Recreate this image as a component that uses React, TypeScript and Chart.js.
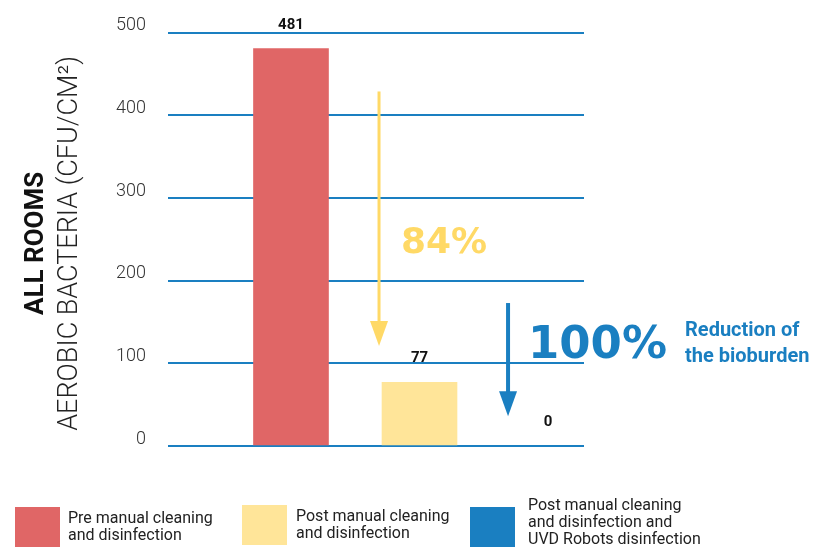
import React, { useEffect, useRef } from "react";
import { Chart, registerables } from "chart.js";

Chart.register(...registerables);

// ---- data ----
const categories = [
  "Pre manual cleaning\nand disinfection",
  "Post manual cleaning\nand disinfection",
  "Post manual cleaning\nand disinfection and\nUVD Robots disinfection",
];
const values = [481, 77, 0];
const positions = [1, 2, 3];
const barColors = ["#e06666", "#ffe599", "#1a7fc1"];
const yTicks = [0, 100, 200, 300, 400, 500];
const yTitleBold = "ALL ROOMS";
const yTitle = "AEROBIC BACTERIA (CFU/CM²)";

// annotations in data units
const arrows = [
  { x: 1.685, from: 429, to: 121, color: "#ffd966", width: 3 },
  { x: 2.689, from: 173, to: 36, color: "#1a7fc1", width: 4 },
];
const notes = [
  { text: "84%", x: 1.856, y: 234, color: "#ffd966", font: "bold 36px 'DejaVu Sans'" },
  { text: "100%", x: 2.844, y: 107, color: "#1a7fc1", font: "bold 45px 'DejaVu Sans'" },
  { text: "Reduction of", x: 4.066, y: 133, color: "#1a7fc1", font: "bold 20px Roboto" },
  { text: "the bioburden", x: 4.066, y: 102, color: "#1a7fc1", font: "bold 20px Roboto" },
];

const BLUE = "#1a7fc1";

const overlayPlugin = {
  id: "overlay",
  afterDatasetsDraw(chart: any) {
    const ctx = chart.ctx;
    const meta = chart.getDatasetMeta(0);
    ctx.save();
    ctx.fillStyle = "#111";
    ctx.font = "bold 15px Roboto";
    ctx.textAlign = "center";
    ctx.textBaseline = "alphabetic";
    meta.data.forEach((bar: any, i: number) => {
      ctx.fillText(String(values[i]), bar.x, bar.y - 20);
    });
    ctx.restore();
  },
  afterDraw(chart: any) {
    const ctx = chart.ctx;
    const xs = chart.scales.x;
    const ys = chart.scales.y;
    ctx.save();
    // arrows
    arrows.forEach((a) => {
      const px = xs.getPixelForValue(a.x);
      const y0 = ys.getPixelForValue(a.from);
      const y1 = ys.getPixelForValue(a.to);
      ctx.strokeStyle = a.color;
      ctx.fillStyle = a.color;
      ctx.lineWidth = a.width;
      ctx.beginPath();
      ctx.moveTo(px, y0);
      ctx.lineTo(px, y1 - 20);
      ctx.stroke();
      ctx.beginPath();
      ctx.moveTo(px - 9, y1 - 25);
      ctx.lineTo(px + 9, y1 - 25);
      ctx.lineTo(px, y1);
      ctx.closePath();
      ctx.fill();
    });
    // notes
    ctx.textAlign = "left";
    ctx.textBaseline = "alphabetic";
    notes.forEach((n) => {
      ctx.font = n.font;
      ctx.fillStyle = n.color;
      ctx.fillText(n.text, xs.getPixelForValue(n.x), ys.getPixelForValue(n.y));
    });
    // y title
    const cy = (chart.chartArea.top + chart.chartArea.bottom) / 2 + 4;
    ctx.translate(0, cy);
    ctx.rotate(-Math.PI / 2);
    ctx.textAlign = "center";
    ctx.fillStyle = "#111";
    ctx.font = "bold 26px Roboto";
    ctx.fillText(yTitleBold, 0, 43);
    ctx.font = "300 27px Roboto";
    ctx.fillStyle = "#222";
    ctx.fillText(yTitle, 0, 77);
    ctx.restore();
  },
};

function ChartCanvas() {
  const ref = useRef<HTMLCanvasElement | null>(null);
  useEffect(() => {
    if (!ref.current) return;
    const chart = new Chart(ref.current, {
      type: "bar",
      data: {
        datasets: [
          {
            data: positions.map((p, i) => ({ x: p, y: values[i] })),
            backgroundColor: barColors,
            barThickness: 75,
          } as any,
        ],
      },
      options: {
        animation: false,
        responsive: false,
        devicePixelRatio: 1,
        layout: { padding: { top: 30, bottom: 103, left: 0, right: 246 } },
        plugins: { legend: { display: false }, tooltip: { enabled: false } },
        scales: {
          x: { type: "linear", min: 0.043, max: 3.28, offset: false, display: false },
          y: {
            min: 0,
            max: 500,
            afterBuildTicks: (s: any) => {
              s.ticks = yTicks.map((v) => ({ value: v }));
            },
            afterFit: (s: any) => {
              s.width = 168;
            },
            border: { display: false },
            grid: { color: BLUE, lineWidth: 2, drawTicks: false },
            ticks: {
              padding: 22,
              labelOffset: -7,
              color: "#333",
              font: { family: "Roboto", size: 18, weight: "300" as any },
            },
          },
        },
      },
      plugins: [overlayPlugin],
    });
    return () => chart.destroy();
  }, []);
  return <canvas ref={ref} width={830} height={549} style={{ display: "block" }} />;
}

const legendPos = [
  { box: [15, 507], text: [68, 509] },
  { box: [242, 505], text: [296, 507] },
  { box: [470, 507], text: [528, 496] },
];

export default function App() {
  return (
    <div style={{ position: "absolute", left: 0, top: 0, width: 830, height: 549, background: "#fff", overflow: "hidden" }}>
      <ChartCanvas />
      {categories.map((c, i) => (
        <React.Fragment key={i}>
          <div
            style={{
              position: "absolute",
              left: legendPos[i].box[0],
              top: legendPos[i].box[1],
              width: 45,
              height: 40,
              background: barColors[i],
            }}
          />
          <div
            style={{
              position: "absolute",
              left: legendPos[i].text[0],
              top: legendPos[i].text[1],
              font: "16px Roboto",
              lineHeight: "17px",
              color: "#222",
              whiteSpace: "pre-line",
            }}
          >
            {c}
          </div>
        </React.Fragment>
      ))}
    </div>
  );
}
